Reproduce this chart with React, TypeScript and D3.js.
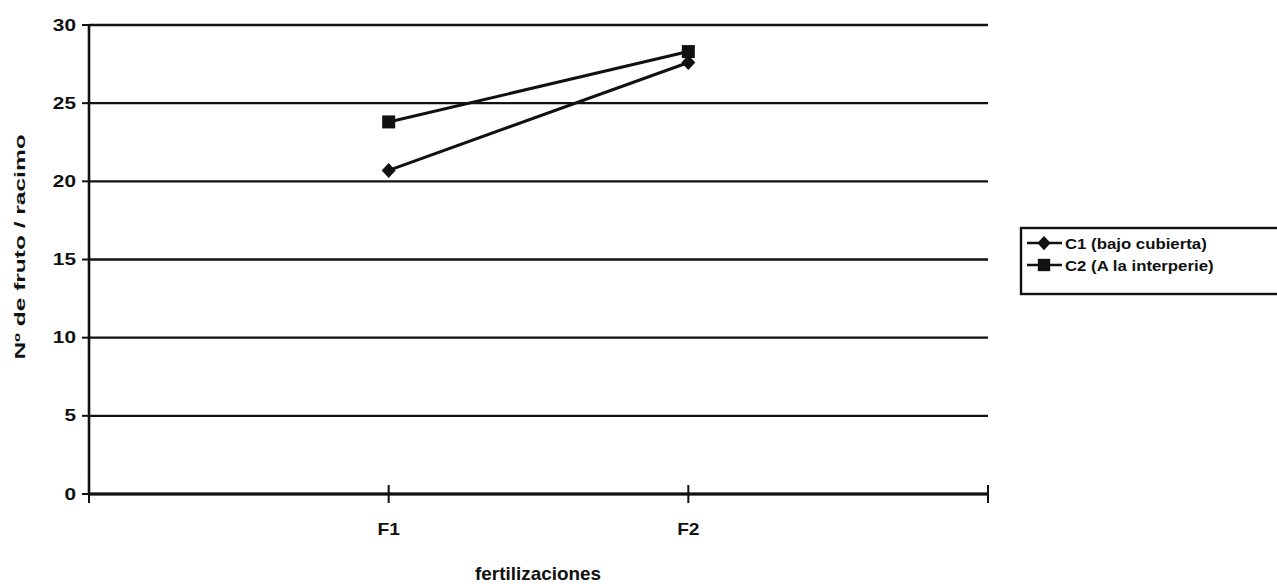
import React from "react";
import * as d3 from "d3";

const categories = ["F1", "F2"];
const seriesNames = ["C1 (bajo cubierta)", "C2 (A la interperie)"];
const c1Values = [20.7, 27.6];
const c2Values = [23.8, 28.3];
const yTicks = [0, 5, 10, 15, 20, 25, 30];

const font = "'Liberation Sans', Arial, sans-serif";

function SText(props: { x: number; y: number; sx?: number; size: number; anchor?: string; rotate?: number; children: React.ReactNode }) {
  const { x, y, sx = 1.25, size, anchor = "start", rotate = 0, children } = props;
  return (
    <text
      transform={`translate(${x},${y}) rotate(${rotate}) scale(${sx},1)`}
      textAnchor={anchor}
      fontSize={size}
      fontWeight="bold"
      fill="#111"
      fontFamily={font}
    >
      {children}
    </text>
  );
}

export default function App() {
  const W = 1277, H = 584;
  const left = 89, right = 988, top = 25, bottom = 494;
  const x = d3.scaleLinear().domain([0, categories.length + 1]).range([left, right]);
  const y = d3.scaleLinear().domain([0, 30]).range([bottom, top]);
  const line = d3.line<number>().x((_, i) => x(i + 1)).y((v) => y(v));
  const series = [
    { name: seriesNames[0], values: c1Values, shape: "diamond" },
    { name: seriesNames[1], values: c2Values, shape: "square" },
  ];
  const marker = (shape: string, cx: number, cy: number, key: string, s = 1) =>
    shape === "square" ? (
      <rect key={key} x={cx - 6.5 * s} y={cy - 6.5 * s} width={13 * s} height={13 * s} fill="#111" />
    ) : (
      <path key={key} d={`M${cx},${cy - 7.5 * s}L${cx + 7 * s},${cy}L${cx},${cy + 7.5 * s}L${cx - 7 * s},${cy}Z`} fill="#111" />
    );
  return (
    <svg width={W} height={H} style={{ position: "absolute", left: 0, top: 0, background: "#fff" }}>
      {yTicks.map((t) => (
        <g key={t}>
          <line x1={left} x2={right} y1={y(t)} y2={y(t)} stroke="#111" strokeWidth={2.4} />
          <line x1={left - 7} x2={left} y1={y(t)} y2={y(t)} stroke="#111" strokeWidth={2} />
          <SText x={left - 13} y={y(t) + 5.5} size={16} anchor="end" sx={1.3}>{t}</SText>
        </g>
      ))}
      <line x1={left} x2={left} y1={top} y2={bottom} stroke="#111" strokeWidth={2.6} />
      <line x1={left} x2={right} y1={bottom} y2={bottom} stroke="#111" strokeWidth={3.2} />
      {d3.range(categories.length + 2).map((i) => (
        <line key={i} x1={x(i)} x2={x(i)} y1={bottom - 9} y2={bottom + 9} stroke="#111" strokeWidth={2} />
      ))}
      {categories.map((c, i) => (
        <SText key={c} x={x(i + 1)} y={535} size={16} anchor="middle" sx={1.2}>{c}</SText>
      ))}
      <SText x={538} y={580} size={18} anchor="middle" sx={1.05}>fertilizaciones</SText>
      <SText x={25} y={247} size={14} anchor="middle" rotate={-90} sx={1.75}>Nº de fruto / racimo</SText>
      {series.map((s) => (
        <g key={s.name}>
          <path d={line(s.values) || ""} fill="none" stroke="#111" strokeWidth={3} />
          {s.values.map((v, i) => marker(s.shape, x(i + 1), y(v), s.name + i))}
        </g>
      ))}
      <rect x={1021} y={228} width={270} height={66} fill="#fff" stroke="#111" strokeWidth={2.4} />
      {series.map((s, i) => {
        const ly = 243 + i * 22;
        return (
          <g key={s.name}>
            <line x1={1027} x2={1062} y1={ly} y2={ly} stroke="#111" strokeWidth={2.4} />
            {marker(s.shape, 1044, ly, "lg" + i, 0.95)}
            <SText x={1065} y={ly + 5.5} size={15} sx={1.12}>{s.name}</SText>
          </g>
        );
      })}
    </svg>
  );
}
